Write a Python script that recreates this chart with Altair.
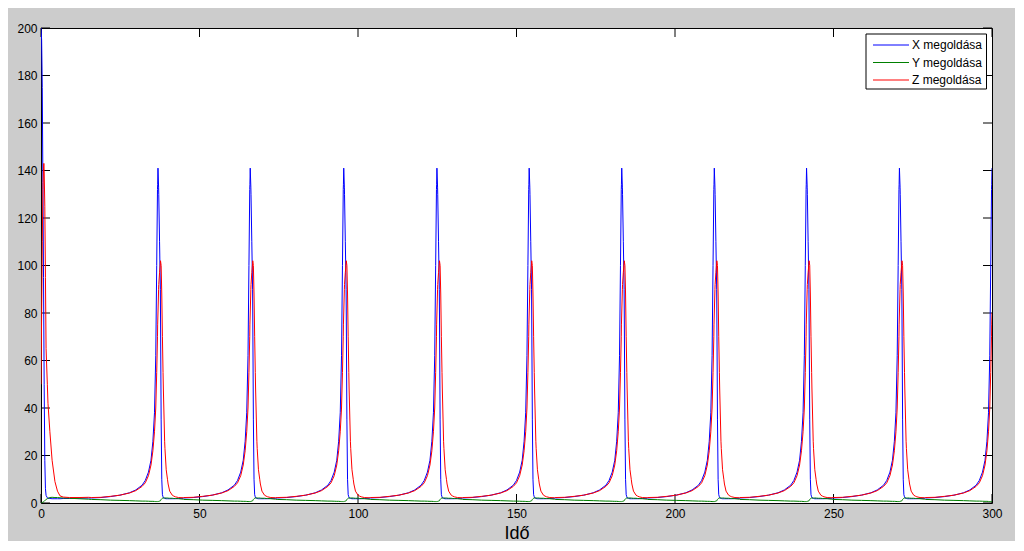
import altair as alt
import pandas as pd

# ---- values ----
series_names = ["X megoldása", "Y megoldása", "Z megoldása"]
series_colors = ["#0000FF", "#008000", "#FF0000"]

# initial transient (t from 0 to 15)
init_t = [0, 0.2, 0.4, 0.6, 0.8, 0.9, 1.0, 1.2, 1.4, 1.6, 2.0, 2.2, 2.8, 3.5, 4.4, 5.2, 6.0, 7.0, 9.0, 12.0, 15.0]
init_x = [200, 195, 175, 135, 95, 72, 50, 18, 6, 3.2, 2.2, 2.0, 1.9, 1.8, 1.8, 1.8, 1.8, 1.9, 1.9, 2.0, 2.1]
init_y = [0.0, 0.1, 0.2, 0.4, 0.5, 0.6, 0.7, 1.0, 1.3, 1.5, 1.8, 2.0, 2.3, 2.4, 2.3, 2.3, 2.2, 2.1, 2.0, 1.8, 1.6]
init_z = [50, 80, 110, 132, 141, 143, 140, 125, 95, 65, 50, 42, 30, 18, 9, 5, 3, 2.5, 2.3, 2.3, 2.4]

# times of the X peaks (after the first transient)
peak_times = [36.9, 66.0, 95.5, 124.9, 154.0, 183.2, 212.4, 241.5, 270.8, 300.0]

# one cycle's shape around an X peak (offset from peak time)
cycle_dt = [-21, -18, -15, -12, -9, -7, -5, -4, -3, -2.2, -1.6, -1.1, -0.7, -0.4, -0.15, -0.1,
            0.0, 0.2, 0.25, 0.5, 0.75, 0.8, 1.0, 1.2, 1.4, 1.6, 1.7, 2.1, 2.2, 2.6, 3.0, 3.2,
            3.7, 4.5, 5.0, 5.5, 6.5, 8.0]
cycle_x = [2.1, 2.3, 2.7, 3.3, 4.3, 5.5, 7.5, 9.5, 13, 18, 26, 38, 62, 100, 132, 134,
           141, 133, 130, 110, 90, 80, 35, 10, 3.5, 2.6, 2.2, 2.0, 1.9, 1.8, 1.8, 1.8,
           1.8, 1.8, 1.8, 1.8, 1.9, 2.0]
cycle_y = [1.5, 1.4, 1.2, 1.1, 1.0, 0.9, 0.8, 0.8, 0.75, 0.7, 0.7, 0.65, 0.6, 0.6, 0.6, 0.6,
           0.6, 0.65, 0.7, 0.8, 0.9, 1.0, 1.5, 1.8, 2.0, 2.1, 2.1, 2.1, 2.1, 2.1, 2.1, 2.05,
           2.0, 2.0, 1.9, 1.9, 1.8, 1.6]
cycle_z = [2.3, 2.4, 2.8, 3.3, 4.2, 5.2, 7, 8.5, 11.5, 16, 22, 30, 40, 55, 70, 75,
           80, 90, 92, 97, 101, 102, 100, 88, 70, 55, 48, 26, 23, 14, 10, 8,
           5, 3.3, 2.9, 2.6, 2.3, 2.2]

x_ticks = [0, 50, 100, 150, 200, 250, 300]
y_ticks = [0, 20, 40, 60, 80, 100, 120, 140, 160, 180, 200]

# ---- build the table ----
rows = []
for i, t in enumerate(init_t):
    rows.append({"t": t, "s": series_names[0], "v": init_x[i]})
    rows.append({"t": t, "s": series_names[1], "v": init_y[i]})
    rows.append({"t": t, "s": series_names[2], "v": init_z[i]})
for tp in peak_times:
    for j, d in enumerate(cycle_dt):
        t = round(tp + d, 3)
        if t <= init_t[-1] or t > 300:
            continue
        rows.append({"t": t, "s": series_names[0], "v": cycle_x[j]})
        rows.append({"t": t, "s": series_names[1], "v": cycle_y[j]})
        rows.append({"t": t, "s": series_names[2], "v": cycle_z[j]})
df = pd.DataFrame(rows)

W, H = 951, 475
TL = 9
FONT = "Liberation Sans"

xscale = alt.Scale(domain=[0, 300], nice=False, zero=False)
yscale = alt.Scale(domain=[0, 200], nice=False)
cscale = alt.Scale(domain=series_names, range=series_colors)

lines = alt.Chart(df).mark_line(strokeWidth=1, clip=True).encode(
    x=alt.X("t:Q", scale=xscale,
            axis=alt.Axis(values=x_ticks, title="Idő", ticks=False, domain=False, grid=False,
                          labelPadding=5, titlePadding=5, titleFontSize=18,
                          titleFontWeight="normal", labelFlush=False)),
    y=alt.Y("v:Q", scale=yscale,
            axis=alt.Axis(values=y_ticks, title=None, ticks=False, domain=False, grid=False,
                          labelPadding=4, labelFlush=False)),
    color=alt.Color("s:N", scale=cscale, legend=None),
    detail="s:N",
)

xt = pd.DataFrame({"t": x_ticks})
yt = pd.DataFrame({"v": y_ticks})

bottom_ticks = alt.Chart(xt).mark_rule(color="black", strokeWidth=1).encode(
    x=alt.X("t:Q", scale=xscale), y=alt.value(H), y2=alt.value(H - TL))
top_ticks = alt.Chart(xt).mark_rule(color="black", strokeWidth=1).encode(
    x=alt.X("t:Q", scale=xscale), y=alt.value(0), y2=alt.value(TL))
left_ticks = alt.Chart(yt).mark_rule(color="black", strokeWidth=1).encode(
    y=alt.Y("v:Q", scale=yscale, axis=None), x=alt.value(0), x2=alt.value(TL))
right_ticks = alt.Chart(yt).mark_rule(color="black", strokeWidth=1).encode(
    y=alt.Y("v:Q", scale=yscale, axis=None), x=alt.value(W - TL), x2=alt.value(W))

# ---- legend (box, line samples, labels) ----
leg = pd.DataFrame({"s": series_names})
leg_y = alt.Y("s:N", scale=alt.Scale(type="point", domain=series_names, range=[17, 52], padding=0),
              axis=None)

leg_box = alt.Chart(leg.head(1)).mark_rect(fill="white", stroke="black", strokeWidth=1).encode(
    x=alt.value(825), x2=alt.value(945.5), y=alt.value(6), y2=alt.value(61))
leg_lines = alt.Chart(leg).mark_rule(strokeWidth=1).encode(
    x=alt.value(832), x2=alt.value(868), y=leg_y,
    color=alt.Color("s:N", scale=cscale, legend=None))
leg_text = alt.Chart(leg).mark_text(align="left", baseline="middle", font=FONT, fontSize=12,
                                    color="black").encode(
    x=alt.value(871), y=leg_y, text="s:N")

chart = alt.layer(
    bottom_ticks, top_ticks, left_ticks, right_ticks, lines, leg_box, leg_lines, leg_text
).resolve_scale(y="independent").properties(
    width=W, height=H,
    background="#cccccc",
    padding={"left": 33, "top": 20, "right": 23, "bottom": 38},
    autosize=alt.AutoSizeParams(type="none"),
).configure_view(
    stroke="black", strokeWidth=1, fill="white"
).configure_axis(
    labelFont=FONT, labelFontSize=12, labelColor="black",
    titleFont=FONT, titleColor="black"
)

chart.save("out.html", embed_options={"renderer": "svg", "actions": False})
